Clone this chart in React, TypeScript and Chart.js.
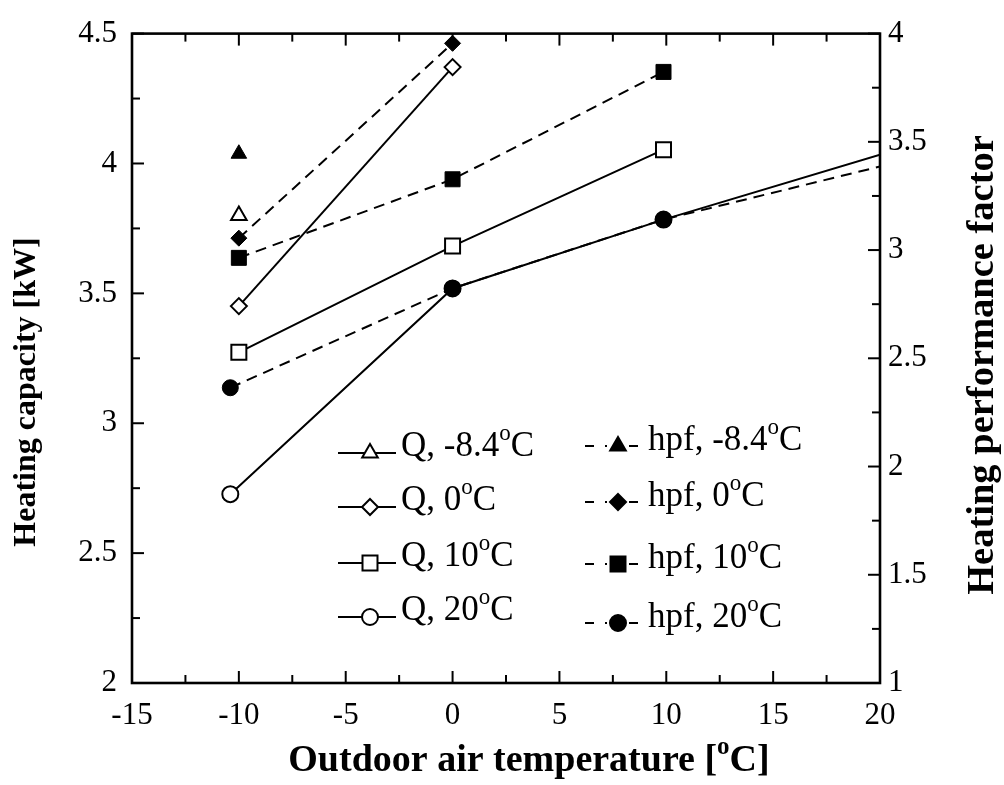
import React, { useEffect, useRef } from 'react';
import { Chart, registerables } from 'chart.js';

Chart.register(...registerables);

// ---- data ----
const xTickValues = [-15, -10, -5, 0, 5, 10, 15, 20];
const leftTickValues = [2, 2.5, 3, 3.5, 4, 4.5];
const rightTickValues = [1, 1.5, 2, 2.5, 3, 3.5, 4];

const qM84X = [-10];
const qM84Y = [3.8];
const q0X = [-10, 0];
const q0Y = [3.451, 4.371];
const q10X = [-10, 0, 9.87];
const q10Y = [3.273, 3.682, 4.053];
const q20X = [-10.4, 0, 9.87, 20];
const q20Y = [2.727, 3.519, 3.784, 4.034];

const hM84X = [-10];
const hM84Y = [3.445];
const h0X = [-10, 0];
const h0Y = [3.055, 3.955];
const h10X = [-10, 0, 9.87];
const h10Y = [2.964, 3.327, 3.823];
const h20X = [-10.4, 0, 9.87, 20];
const h20Y = [2.364, 2.823, 3.141, 3.386];

const legendLabels = ['-8.4', '0', '10', '20'];

const SERIF = '"Liberation Serif", "Times New Roman", serif';

const pts = (xs: number[], ys: number[]) => xs.map((x, i) => ({ x, y: ys[i] }));

function drawMarker(ctx: CanvasRenderingContext2D, style: string, x: number, y: number, r: number, filled: boolean) {
  ctx.save();
  ctx.beginPath();
  if (style === 'triangle') {
    const s = Math.sin(Math.PI / 3) * r;
    ctx.moveTo(x, y - r);
    ctx.lineTo(x + s, y + r / 2);
    ctx.lineTo(x - s, y + r / 2);
    ctx.closePath();
  } else if (style === 'rectRot') {
    ctx.moveTo(x, y - r);
    ctx.lineTo(x + r, y);
    ctx.lineTo(x, y + r);
    ctx.lineTo(x - r, y);
    ctx.closePath();
  } else if (style === 'rect') {
    const h = r * Math.SQRT1_2;
    ctx.rect(x - h, y - h, 2 * h, 2 * h);
  } else {
    ctx.arc(x, y, r, 0, Math.PI * 2);
  }
  ctx.fillStyle = filled ? '#000' : '#fff';
  ctx.fill();
  ctx.lineWidth = 2;
  ctx.strokeStyle = '#000';
  ctx.stroke();
  ctx.restore();
}

type Part = { t: string; sup?: boolean };

function drawRich(ctx: CanvasRenderingContext2D, parts: Part[], x: number, y: number, size: number, bold: boolean, align: 'left' | 'center') {
  const w = bold ? 'bold ' : '';
  const mainFont = `${w}${size}px ${SERIF}`;
  const supFont = `${w}${Math.round(size * 0.66)}px ${SERIF}`;
  let total = 0;
  const widths = parts.map((p) => {
    ctx.font = p.sup ? supFont : mainFont;
    const m = ctx.measureText(p.t).width;
    total += m;
    return m;
  });
  let cx = align === 'center' ? x - total / 2 : x;
  ctx.textAlign = 'left';
  ctx.textBaseline = 'alphabetic';
  ctx.fillStyle = '#000';
  parts.forEach((p, i) => {
    ctx.font = p.sup ? supFont : mainFont;
    ctx.fillText(p.t, cx, p.sup ? y - size * 0.45 : y);
    cx += widths[i];
  });
}

const decorPlugin = {
  id: 'decor',
  afterDraw(chart: any) {
    const ctx: CanvasRenderingContext2D = chart.ctx;
    const { left, right, top, bottom } = chart.chartArea;
    const sx = chart.scales.x;
    const sy = chart.scales.y;
    const sy2 = chart.scales.y2;
    ctx.save();
    ctx.strokeStyle = '#000';
    // inward ticks
    ctx.lineWidth = 2;
    const seg = (x1: number, y1: number, x2: number, y2: number) => {
      ctx.beginPath();
      ctx.moveTo(x1, y1);
      ctx.lineTo(x2, y2);
      ctx.stroke();
    };
    for (let v = -15; v <= 20.001; v += 2.5) {
      const px = sx.getPixelForValue(v);
      const major = Math.abs(v / 5 - Math.round(v / 5)) < 1e-6;
      const len = major ? 12 : 8;
      seg(px, bottom, px, bottom - len);
      seg(px, top, px, top + len);
    }
    for (let v = 2; v <= 4.5001; v += 0.25) {
      const py = sy.getPixelForValue(v);
      const major = Math.abs(v * 2 - Math.round(v * 2)) < 1e-6;
      seg(left, py, left + (major ? 12 : 8), py);
    }
    for (let v = 1; v <= 4.0001; v += 0.25) {
      const py = sy2.getPixelForValue(v);
      const major = Math.abs(v * 2 - Math.round(v * 2)) < 1e-6;
      seg(right, py, right - (major ? 12 : 8), py);
    }
    // frame
    ctx.lineWidth = 2.6;
    ctx.strokeRect(left, top, right - left, bottom - top);

    // axis titles
    drawRich(ctx, [{ t: 'Outdoor air temperature [' }, { t: 'o', sup: true }, { t: 'C]' }], 529, 771, 38, true, 'center');
    ctx.save();
    ctx.translate(35, 392);
    ctx.rotate(-Math.PI / 2);
    drawRich(ctx, [{ t: 'Heating capacity [kW]' }], 0, 0, 32, true, 'center');
    ctx.restore();
    ctx.save();
    ctx.translate(993, 365);
    ctx.rotate(-Math.PI / 2);
    drawRich(ctx, [{ t: 'Heating performance factor' }], 0, 0, 38.5, true, 'center');
    ctx.restore();

    // legend
    const styles = ['triangle', 'rectRot', 'rect', 'circle'];
    const radii = [9, 8, 10.6, 8];
    const leftRows = [453, 507, 563, 617];
    const rightRows = [446, 502, 564, 623];
    ctx.lineWidth = 2;
    legendLabels.forEach((lab, i) => {
      const y = leftRows[i];
      seg(338, y, 396, y);
      drawMarker(ctx, styles[i], 370, y, radii[i], false);
      drawRich(ctx, [{ t: `Q, ${lab}` }, { t: 'o', sup: true }, { t: 'C' }], 401, y + 3, 35, false, 'left');
    });
    legendLabels.forEach((lab, i) => {
      const y = rightRows[i];
      ctx.lineWidth = 2;
      seg(585, y, 594, y);
      seg(605, y, 607, y);
      seg(629, y, 638, y);
      drawMarker(ctx, styles[i], 618, y, radii[i], true);
      drawRich(ctx, [{ t: `hpf, ${lab}` }, { t: 'o', sup: true }, { t: 'C' }], 648, y + 4, 35, false, 'left');
    });
    ctx.restore();
  },
};

export default function App() {
  const ref = useRef<HTMLCanvasElement>(null);
  useEffect(() => {
    const r = (rad: number) => (c: any) => (c.raw && c.raw.x >= 20 ? 0 : rad);
    const qStyle = (style: string, rad: number) => ({
      borderColor: '#000',
      borderWidth: 2,
      pointStyle: style,
      pointRadius: r(rad),
      pointHoverRadius: r(rad),
      pointBackgroundColor: '#fff',
      pointBorderColor: '#000',
      pointBorderWidth: 2,
      yAxisID: 'y',
      showLine: true,
      fill: false,
      tension: 0,
    });
    const hStyle = (style: string, rad: number) => ({
      borderColor: '#000',
      borderWidth: 2,
      borderDash: [11, 7],
      pointStyle: style,
      pointRadius: r(rad),
      pointHoverRadius: r(rad),
      pointBackgroundColor: '#000',
      pointBorderColor: '#000',
      pointBorderWidth: 1,
      yAxisID: 'y2',
      showLine: true,
      fill: false,
      tension: 0,
    });
    const tickFont = { family: SERIF, size: 31 };
    const fmt = (v: any) => String(v);
    const chart = new Chart(ref.current as HTMLCanvasElement, {
      type: 'scatter',
      data: {
        datasets: [
          { label: 'hpf, -8.4', data: pts(hM84X, hM84Y), ...hStyle('triangle', 9) },
          { label: 'hpf, 0', data: pts(h0X, h0Y), ...hStyle('rectRot', 8) },
          { label: 'hpf, 10', data: pts(h10X, h10Y), ...hStyle('rect', 10.6) },
          { label: 'hpf, 20', data: pts(h20X, h20Y), ...hStyle('circle', 8) },
          { label: 'Q, -8.4', data: pts(qM84X, qM84Y), ...qStyle('triangle', 9) },
          { label: 'Q, 0', data: pts(q0X, q0Y), ...qStyle('rectRot', 8) },
          { label: 'Q, 10', data: pts(q10X, q10Y), ...qStyle('rect', 10.6) },
          { label: 'Q, 20', data: pts(q20X, q20Y), ...qStyle('circle', 8) },
        ] as any,
      },
      options: {
        responsive: false,
        animation: false,
        devicePixelRatio: 1,
        layout: { padding: { top: 23, left: 0, right: 0, bottom: 0 } },
        plugins: { legend: { display: false }, tooltip: { enabled: false }, title: { display: false } },
        events: [],
        scales: {
          x: {
            type: 'linear',
            position: 'bottom',
            min: -15,
            max: 20,
            afterBuildTicks: (s: any) => { s.ticks = xTickValues.map((v) => ({ value: v })); },
            afterFit: (s: any) => { s.height = 102; },
            grid: { display: false, drawTicks: false },
            border: { display: false },
            ticks: { font: tickFont, color: '#000', padding: 14, maxRotation: 0, callback: fmt },
          },
          y: {
            type: 'linear',
            position: 'left',
            min: 2,
            max: 4.5,
            afterBuildTicks: (s: any) => { s.ticks = leftTickValues.map((v) => ({ value: v })); },
            afterFit: (s: any) => { s.width = 132; },
            grid: { display: false, drawTicks: false },
            border: { display: false },
            ticks: { font: tickFont, color: '#000', padding: 15, callback: fmt },
          },
          y2: {
            type: 'linear',
            position: 'right',
            min: 1,
            max: 4,
            afterBuildTicks: (s: any) => { s.ticks = rightTickValues.map((v) => ({ value: v })); },
            afterFit: (s: any) => { s.width = 124; },
            grid: { display: false, drawTicks: false },
            border: { display: false },
            ticks: { font: tickFont, color: '#000', padding: 8, callback: fmt },
          },
        },
      } as any,
      plugins: [decorPlugin],
    });
    return () => chart.destroy();
  }, []);
  return (
    <div style={{ position: 'absolute', left: 0, top: 0, width: 1004, height: 785, background: '#fff' }}>
      <canvas ref={ref} width={1004} height={785} style={{ display: 'block', width: 1004, height: 785 }} />
    </div>
  );
}
